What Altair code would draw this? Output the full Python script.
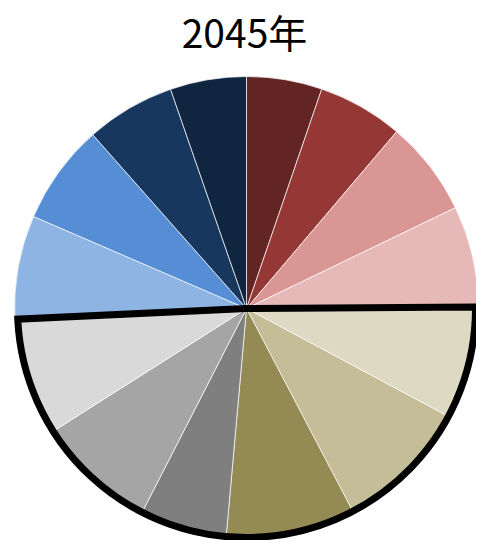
import altair as alt
import pandas as pd

# Slice sizes (degrees of the full circle), clockwise from 12 o'clock
slices = ["s01", "s02", "s03", "s04", "s05", "s06", "s07",
          "s08", "s09", "s10", "s11", "s12", "s13", "s14"]
values = [18.93, 21.40, 23.91, 25.36, 28.55, 34.19, 32.75,
          22.03, 30.45, 29.76, 26.04, 25.13, 22.40, 19.10]
colors = ["#632523", "#953735", "#D99694", "#E6B9B8", "#DDD9C3", "#C4BD97", "#948A54",
          "#7F7F7F", "#A5A5A5", "#D9D9D9", "#8EB4E3", "#558ED5", "#17375E", "#10253F"]
# grouping used for the highlighted (outlined) lower half
groups = ["A", "A", "A", "A", "B", "B", "B", "B", "B", "B", "C", "C", "C", "C"]
title_text = "2045年"

df = pd.DataFrame({"slice": slices, "value": values, "order": list(range(len(slices))),
                   "group": groups})

grp = df.groupby("group", as_index=False)["value"].sum()
grp["order"] = [0, 1, 2]

CX, CY, R = 238.5, 300.5, 232

pie = alt.Chart(df).mark_arc(stroke="white", strokeWidth=0.7).encode(
    theta=alt.Theta("value:Q", stack=True),
    order=alt.Order("order:Q"),
    color=alt.Color("slice:N", scale=alt.Scale(domain=slices, range=colors), legend=None),
    x=alt.value(CX), y=alt.value(CY),
    radius=alt.value(R),
)

outline = alt.Chart(grp).mark_arc(fillOpacity=0, strokeWidth=7, strokeJoin="miter").encode(
    theta=alt.Theta("value:Q", stack=True),
    order=alt.Order("order:Q"),
    stroke=alt.Stroke("group:N", scale=alt.Scale(domain=["A", "B", "C"],
                                                  range=["transparent", "black", "transparent"]),
                      legend=None),
    x=alt.value(CX), y=alt.value(CY),
    radius=alt.value(R - 3),
)

title = alt.Chart(pd.DataFrame({"t": [title_text]})).mark_text(
    font="Noto Sans CJK SC", fontSize=39, color="black", align="center", baseline="alphabetic"
).encode(text="t:N", x=alt.value(236.5), y=alt.value(40))

chart = alt.layer(pie, outline, title).properties(
    width=468, height=532, padding=0, autosize=alt.AutoSizeParams(type="none")
).configure_view(stroke=None)

chart.save("out.html", embed_options={"renderer": "svg", "actions": False})
